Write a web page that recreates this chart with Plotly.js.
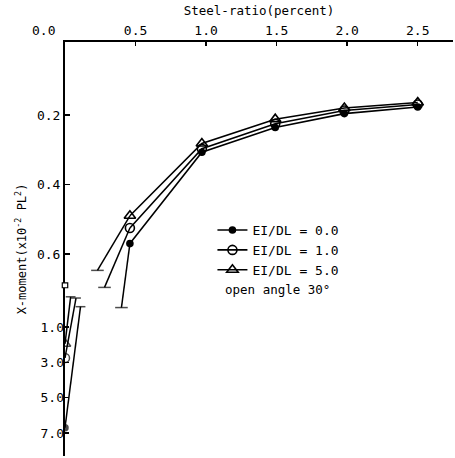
<!DOCTYPE html>
<html>
<head>
<meta charset="utf-8">
<script src="https://cdn.plot.ly/plotly-3.0.1.min.js"></script>
<style>html,body{margin:0;padding:0;background:#fff;}#chart{width:455px;height:458px;}</style>
</head>
<body>
<div id="chart"></div>
<script>
// ---- data ----
const seriesNames = ["EI/DL = 0.0", "EI/DL = 1.0", "EI/DL = 5.0"];
const steelRatio = [0.46, 0.97, 1.49, 1.98, 2.5];
const moment00 = [0.57, 0.307, 0.236, 0.196, 0.177];
const moment10 = [0.525, 0.297, 0.225, 0.187, 0.170];
const moment50 = [0.49, 0.282, 0.212, 0.180, 0.164];
// upper tails (broken ends), [steel ratio, moment]
const tailX = [0.40, 0.28, 0.23];
const tailY = [0.754, 0.696, 0.647];
// lower (compressed scale) segments: top cut point to value at steel ratio 0
const lowTopX = [0.11, 0.078, 0.04];
const lowTopY = [-0.15, -0.64, -0.71];
const lowEndX = [0, 0, 0];
const lowEndY = [6.7, 2.75, 1.95];
const upperTicks = [0.2, 0.4, 0.6];
const upperTickText = ["0.2", "0.4", "0.6"];
const lowerTicks = [1, 3, 5, 7];
const lowerTickText = ["1.0", "3.0", "5.0", "7.0"];
const xTicks = [0.5, 1.0, 1.5, 2.0, 2.5];
const xTickText = ["0.5", "1.0", "1.5", "2.0", "2.5"];

const FONT = "DejaVu Sans Mono, Liberation Mono, monospace";
const symbols = ["circle", "circle-open", "triangle-up-open"];
const sizes = [6, 9, 10];
const mainY = [moment00, moment10, moment50];

const traces = [];
for (let i = 0; i < 3; i++) {
  traces.push({
    x: steelRatio, y: mainY[i], name: seriesNames[i], type: "scatter",
    mode: "lines+markers", yaxis: "y",
    line: {color: "#000", width: 1.6},
    marker: {symbol: symbols[i], size: sizes[i], color: "#000", line: {color: "#000", width: 1.6}}
  });
}
for (let i = 0; i < 3; i++) {
  traces.push({
    x: [tailX[i], steelRatio[0]], y: [tailY[i], mainY[i][0]], type: "scatter",
    mode: "lines+markers", yaxis: "y", showlegend: false, hoverinfo: "skip",
    line: {color: "#000", width: 1.5},
    marker: {symbol: ["line-ew-open", "circle"], size: [9, 0], color: "#000", line: {color: "#000", width: 1.5}}
  });
  traces.push({
    x: [lowTopX[i], lowEndX[i]], y: [lowTopY[i], lowEndY[i]], type: "scatter",
    mode: "lines+markers", yaxis: "y2", showlegend: false, hoverinfo: "skip",
    line: {color: "#000", width: 1.5},
    marker: {symbol: ["line-ew-open", symbols[i]], size: [7, sizes[i]], color: "#000", line: {color: "#000", width: 1.5}}
  });
}

const layout = {
  width: 455, height: 458,
  margin: {l: 65, r: 2, t: 42, b: 2},
  paper_bgcolor: "#fff", plot_bgcolor: "#fff",
  font: {family: FONT, size: 13, color: "#000"},
  showlegend: true,
  legend: {x: 0.38, y: 0.582, xanchor: "left", yanchor: "top", bgcolor: "rgba(0,0,0,0)",
           font: {family: FONT, size: 13, color: "#000"}, itemwidth: 30, tracegroupgap: 0},
  xaxis: {
    side: "top", range: [0, 2.75], showgrid: false, zeroline: false,
    showline: true, linecolor: "#000", linewidth: 2,
    ticks: "inside", ticklen: 4, tickwidth: 1.5, tickcolor: "#000",
    tickvals: xTicks, ticktext: xTickText,
    tickfont: {family: FONT, size: 13},
    title: {text: "Steel-ratio(percent)", font: {family: FONT, size: 12.5}, standoff: 4}
  },
  yaxis: {
    range: [1.181, -0.010], showgrid: false, zeroline: false,
    showline: true, linecolor: "#000", linewidth: 2,
    ticks: "inside", ticklen: 5, tickwidth: 1.5, tickcolor: "#000",
    tickvals: upperTicks, ticktext: upperTickText,
    tickfont: {family: FONT, size: 13},
    title: {text: "X-moment(x10<sup>-2</sup> PL<sup>2</sup>)", font: {family: FONT, size: 12}, standoff: 8}
  },
  yaxis2: {
    overlaying: "y", side: "left", range: [8.30, -15.13], showgrid: false, zeroline: false,
    showline: false, ticks: "inside", ticklen: 4, tickwidth: 1.5, tickcolor: "#000",
    tickvals: lowerTicks, ticktext: lowerTickText,
    tickfont: {family: FONT, size: 13}
  },
  annotations: [
    {text: "0.0", xref: "paper", yref: "paper", x: -0.055, y: 1, xanchor: "center", yanchor: "bottom",
     yshift: 2, showarrow: false, font: {family: FONT, size: 13}},
    {text: "open angle 30°", xref: "paper", yref: "paper", x: 0.547, y: 0.402, xanchor: "center", yanchor: "middle",
     showarrow: false, font: {family: FONT, size: 12.5}}
  ],
  shapes: [
    {type: "rect", xref: "paper", yref: "y", x0: -0.007, x1: 0.007, y0: 0.683, y1: 0.697,
     fillcolor: "#fff", line: {color: "#000", width: 1.2}}
  ]
};

Plotly.newPlot("chart", traces, layout, {displayModeBar: false, staticPlot: true});
</script>
</body>
</html>
